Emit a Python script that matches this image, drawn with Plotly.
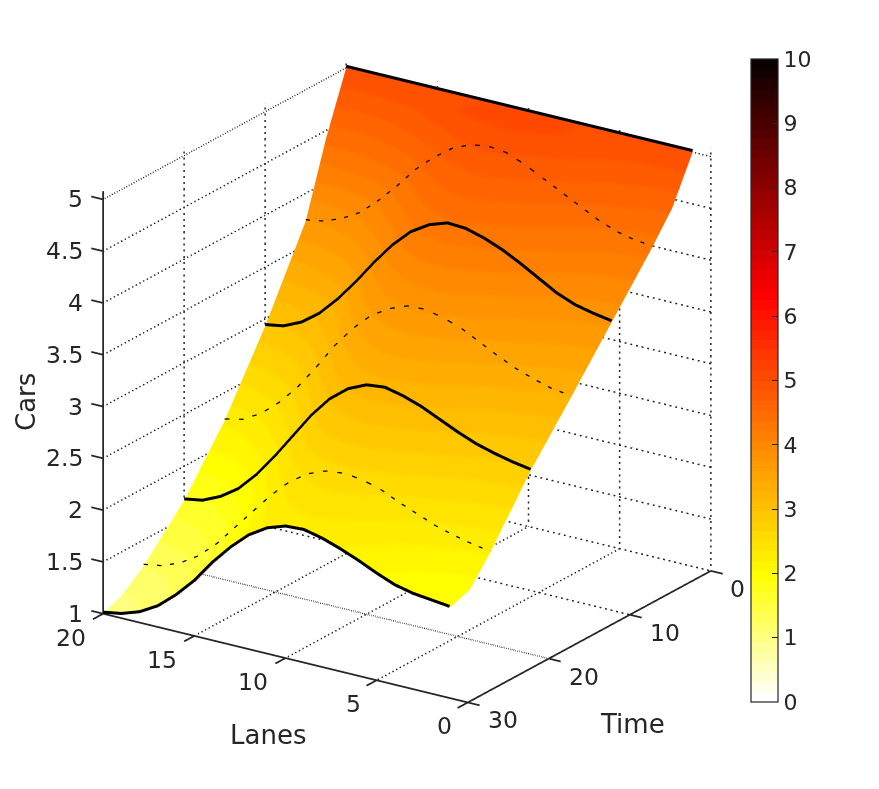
import plotly.graph_objects as go

lanes = list(range(20, 0, -1))
times = [0, 2.5, 5, 10, 15, 20, 25, 27.5, 30]
cars_t0 = [5.0] * 20
cars_t2 = [4.42, 4.43, 4.47, 4.54, 4.64, 4.77, 4.90, 4.99, 5.05, 5.09, 5.10, 5.09, 5.05, 4.98, 4.90, 4.81, 4.73, 4.66, 4.60, 4.57]
cars_t5 = [3.73, 3.76, 3.83, 3.93, 4.09, 4.27, 4.47, 4.63, 4.76, 4.84, 4.87, 4.85, 4.78, 4.69, 4.60, 4.51, 4.42, 4.35, 4.31, 4.29]
cars_t10 = [2.93, 2.96, 3.04, 3.17, 3.35, 3.56, 3.79, 4.00, 4.17, 4.28, 4.34, 4.33, 4.28, 4.21, 4.12, 4.02, 3.92, 3.85, 3.81, 3.78]
cars_t15 = [2.23, 2.27, 2.37, 2.52, 2.71, 2.94, 3.19, 3.40, 3.57, 3.68, 3.75, 3.76, 3.72, 3.66, 3.57, 3.48, 3.40, 3.34, 3.29, 3.27]
cars_t20 = [1.67, 1.70, 1.78, 1.90, 2.08, 2.30, 2.54, 2.78, 2.98, 3.12, 3.20, 3.22, 3.18, 3.12, 3.04, 2.96, 2.89, 2.84, 2.80, 2.77]
cars_t25 = [1.25, 1.28, 1.35, 1.46, 1.62, 1.82, 2.02, 2.22, 2.39, 2.51, 2.58, 2.60, 2.58, 2.53, 2.45, 2.38, 2.31, 2.26, 2.22, 2.19]
cars_t27 = [1.09, 1.12, 1.19, 1.30, 1.45, 1.65, 1.86, 2.06, 2.22, 2.34, 2.40, 2.42, 2.38, 2.32, 2.24, 2.16, 2.08, 2.03, 1.98, 1.94]
cars_t30 = [1.00, 1.03, 1.09, 1.19, 1.34, 1.52, 1.74, 1.93, 2.09, 2.20, 2.26, 2.27, 2.23, 2.17, 2.10, 2.02, 1.95, 1.91, 1.89, 1.87]
cars = [cars_t0, cars_t2, cars_t5, cars_t10, cars_t15, cars_t20, cars_t25, cars_t27, cars_t30]

lane_ticks = [0, 5, 10, 15, 20]
time_ticks = [0, 10, 20, 30]
car_ticks = [1, 1.5, 2, 2.5, 3, 3.5, 4, 4.5, 5]
car_labels = ["1", "1.5", "2", "2.5", "3", "3.5", "4", "4.5", "5"]
bar_ticks = list(range(0, 11))

Z_TOP = 5.08
INK = "#262626"
TICK_FONT = dict(family="DejaVu Sans", size=23.5, color=INK)
BAR_FONT = dict(family="DejaVu Sans", size=22, color=INK)
TITLE_FONT = dict(family="DejaVu Sans", size=26, color=INK)


def level_colour(k):
    if k <= 12:
        return (255, 255, round(255 * (1 - k / 12)))
    if k <= 40:
        return (255, round(255 * (1 - (k - 12) / 28)), 0)
    return (round(255 * (1 - (k - 40) / 24)), 0, 0)


colorscale = []
for k in range(64):
    c = "rgb(%d,%d,%d)" % level_colour(k)
    colorscale += [[k / 64, c], [(k + 1) / 64, c]]


def polyline(segments):
    xs, ys, zs = [], [], []
    for seg in segments:
        for p in seg:
            xs.append(p[0]); ys.append(p[1]); zs.append(p[2])
        xs.append(None); ys.append(None); zs.append(None)
    return xs, ys, zs


def lines(segments, **line):
    xs, ys, zs = polyline(segments)
    return go.Scatter3d(x=xs, y=ys, z=zs, mode="lines", line=line,
                        hoverinfo="skip", showlegend=False)


fig = go.Figure()
fig.add_trace(go.Surface(
    x=lanes, y=times, z=cars, cmin=0, cmax=10, colorscale=colorscale,
    showscale=True, hoverinfo="skip",
    lighting=dict(ambient=1, diffuse=0, specular=0, roughness=1, fresnel=0),
    colorbar=dict(
        x=743 / 879, xanchor="left", y=1 - 694 / 789, yanchor="bottom",
        lenmode="pixels", len=643, thicknessmode="pixels", thickness=27,
        xpad=0, ypad=0, outlinecolor=INK, outlinewidth=1.2,
        tickmode="array", tickvals=bar_ticks, ticks="inside", ticklen=6,
        tickcolor=INK, tickfont=BAR_FONT),
))

levels = [[(0, 0, z), (20, 0, z), (20, 30, z)] for z in car_ticks[1:]]
uprights = [[(20, t, 1), (20, t, Z_TOP)] for t in time_ticks[:-1]] + \
           [[(L, 0, 1), (L, 0, Z_TOP)] for L in lane_ticks[:-1]]
floor = [[(L, 30, 1), (L, 0, 1)] for L in lane_ticks[:-1]] + \
        [[(0, t, 1), (20, t, 1)] for t in time_ticks[:-1]]
groups = []
for i, lev in enumerate(levels):
    g = [lev]
    if i < len(uprights):
        g.append(uprights[i])
    groups.append(g)
for i in range(0, len(floor), 3):
    groups.append(floor[i:i + 3])
for g in groups:
    fig.add_trace(lines(g, color=INK, width=3, dash="dot"))

axes = [[(20, 30, 1), (20, 30, Z_TOP)], [(20, 30, 1), (0, 30, 1), (0, 0, 1)]]
for z in car_ticks:
    axes.append([(20, 30, z), (20.65, 30, z)])
for L in lane_ticks:
    axes.append([(L, 30, 1), (L, 31.25, 1)])
for t in time_ticks:
    axes.append([(0, t, 1), (-0.65, t, 1)])
fig.add_trace(lines(axes, color=INK, width=3.5))

LIFT = 0.015
for row, t in enumerate(times):
    pts = [(L, t, v + LIFT) for L, v in zip(lanes, cars[row])]
    if t in (0, 10, 20, 30):
        fig.add_trace(lines([pts], color="black", width=6))
    elif t in (5, 15, 25):
        for part in (pts[:7], pts[6:14], pts[13:]):
            fig.add_trace(lines([part], color="black", width=2.5, dash="longdash"))

notes = []
for z, label in zip(car_ticks, car_labels):
    notes.append(dict(x=20, y=30, z=z, text=label, showarrow=False, font=TICK_FONT,
                      xanchor="right", xshift=-18, yshift=0))
for L in lane_ticks:
    notes.append(dict(x=L, y=30, z=1, text=str(L), showarrow=False, font=TICK_FONT,
                      xshift=-32 if L > 5 else -23, yshift=-24))
for t in time_ticks:
    notes.append(dict(x=0, y=t, z=1, text=str(t), showarrow=False, font=TICK_FONT,
                      xshift=35 if t else 27, yshift=-18))

hidden = dict(visible=False, autorange=False, showgrid=False, zeroline=False, showspikes=False)
R = 1.503
S = 1.49
fig.update_layout(
    width=879, height=789, margin=dict(l=0, r=0, t=0, b=0),
    paper_bgcolor="white", showlegend=False,
    scene=dict(
        domain=dict(x=[0, 798 / 879], y=[43 / 789, 1]),
        xaxis=dict(range=[-1, 21], **hidden),
        yaxis=dict(range=[-2, 32], **hidden),
        zaxis=dict(range=[0.54, 5.54], **hidden),
        aspectmode="manual", aspectratio=dict(x=0.869 * S, y=0.890 * S, z=1.0 * S),
        camera=dict(projection=dict(type="orthographic"),
                    center=dict(x=0, y=0, z=0), up=dict(x=0, y=0, z=1),
                    eye=dict(x=-0.519 * R, y=0.774 * R, z=0.363 * R)),
        annotations=notes, bgcolor="white",
    ),
    annotations=[
        dict(x=260 / 879, y=1 - 727 / 789, xref="paper", yref="paper", xanchor="center", yanchor="middle", text="Lanes", showarrow=False, font=TITLE_FONT),
        dict(x=624 / 879, y=1 - 716 / 789, xref="paper", yref="paper", xanchor="center", yanchor="middle", text="Time", showarrow=False, font=TITLE_FONT),
        dict(x=18 / 879, y=1 - 394 / 789, xref="paper", yref="paper", xanchor="center", yanchor="middle", text="Cars", showarrow=False, font=TITLE_FONT, textangle=-90),
    ],
)
fig.write_html("out.html")
